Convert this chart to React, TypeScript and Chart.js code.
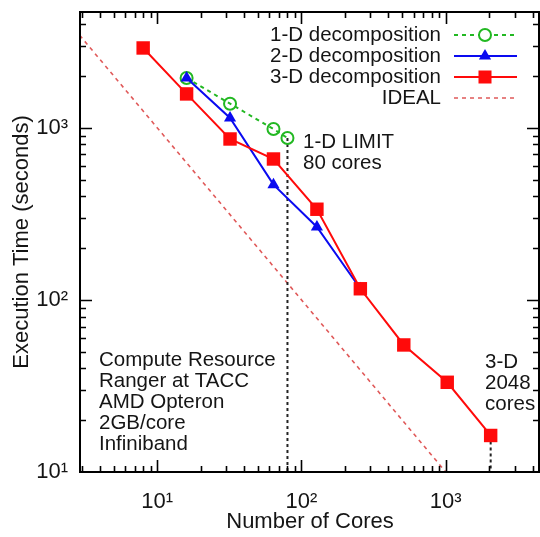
import React, { useEffect, useRef } from 'react';
import { Chart, registerables } from 'chart.js';

Chart.register(...registerables);

// ---- data ----
const coresOneD = [16, 32, 64, 80];
const timeOneD = [1945, 1379, 983, 871];
const coresTwoD = [16, 32, 64, 128, 256];
const timeTwoD = [1945, 1139, 467, 265, 116];
const coresThreeD = [8, 16, 32, 64, 128, 256, 512, 1024, 2048];
const timeThreeD = [2905, 1571, 860, 658, 336, 116, 54.7, 33.2, 16.3];
const coresIdeal = [1, 1000];
const timeIdeal = [10000, 10];
const limitOneDCores = [80, 80];
const limitOneDTime = [871, 10];
const limitThreeDCores = [2048, 2048];
const limitThreeDTime = [16.3, 10];

const legendLabels = ['1-D decomposition', '2-D decomposition', '3-D decomposition', 'IDEAL'];
const noteOneD = ['1-D LIMIT', '80 cores'];
const noteResource = ['Compute Resource', 'Ranger at TACC', 'AMD Opteron', '2GB/core', 'Infiniband'];
const noteThreeD = ['3-D', '2048', 'cores'];
const xTitle = 'Number of Cores';
const yTitle = 'Execution Time (seconds)';
const superscripts = ['⁰', '¹', '²', '³', '⁴', '⁵'];

const X_MIN = 2.92;
const X_MAX = 4500;
const Y_MIN = 10;
const Y_MAX = 4700;

const GREEN = '#22b822';
const BLUE = '#0a0af0';
const RED = '#ff0a0a';
const IDEAL_RED = '#e05a5a';
const FONT = '"Liberation Sans", Arial, Helvetica, sans-serif';
const TEXT = '#151515';

// target plot frame (canvas pixels)
const AREA = { left: 80, top: 12, bottom: 472 };

const pts = (xs: number[], ys: number[]) => xs.map((x, i) => ({ x, y: ys[i] }));

function powLabel(v: number) {
  const l = Math.log10(v);
  const r = Math.round(l);
  return Math.abs(l - r) < 1e-6 ? '10' + superscripts[r] : '';
}

const zeroPad = (s: any) => {
  s.paddingTop = 0;
  s.paddingBottom = 0;
  s.paddingLeft = 0;
  s.paddingRight = 0;
};

const decor = {
  id: 'decor',
  afterDraw(chart: any) {
    const { ctx, chartArea: a } = chart;
    const xs = chart.scales.x;
    const ys = chart.scales.y;
    ctx.save();
    // frame
    ctx.strokeStyle = '#000';
    ctx.lineWidth = 2;
    ctx.setLineDash([]);
    ctx.strokeRect(a.left, a.top, a.right - a.left - 1, a.bottom - a.top);
    // inward ticks
    ctx.lineWidth = 1.6;
    for (let p = 0; p <= 4; p++) {
      for (let m = 1; m <= 9; m++) {
        const v = m * Math.pow(10, p);
        const len = m === 1 ? 12 : 6;
        if (v > X_MIN && v < X_MAX) {
          const px = Math.round(xs.getPixelForValue(v)) + 0.5;
          ctx.beginPath();
          ctx.moveTo(px, a.bottom);
          ctx.lineTo(px, a.bottom - len);
          ctx.moveTo(px, a.top);
          ctx.lineTo(px, a.top + len);
          ctx.stroke();
        }
        if (v > Y_MIN && v < Y_MAX) {
          const py = Math.round(ys.getPixelForValue(v)) + 0.5;
          ctx.beginPath();
          ctx.moveTo(a.left, py);
          ctx.lineTo(a.left + len, py);
          ctx.moveTo(a.right - 1, py);
          ctx.lineTo(a.right - 1 - len, py);
          ctx.stroke();
        }
      }
    }
    // annotations
    ctx.fillStyle = TEXT;
    ctx.font = `20.5px ${FONT}`;
    ctx.textAlign = 'left';
    ctx.textBaseline = 'middle';
    noteOneD.forEach((t, i) => ctx.fillText(t, 303, 142 + i * 21));
    noteResource.forEach((t, i) => ctx.fillText(t, 99, 360 + i * 21));
    noteThreeD.forEach((t, i) => ctx.fillText(t, 485, 362 + i * 21));

    // legend
    const rows = [
      { color: GREEN, dash: [4, 4], width: 2, marker: 'circle' },
      { color: BLUE, dash: [], width: 2, marker: 'triangle' },
      { color: RED, dash: [], width: 2, marker: 'rect' },
      { color: IDEAL_RED, dash: [4, 4], width: 1.6, marker: 'none' },
    ];
    rows.forEach((r, i) => {
      const yy = 35 + i * 21;
      ctx.fillStyle = TEXT;
      ctx.textAlign = 'right';
      ctx.fillText(legendLabels[i], 441, yy);
      ctx.strokeStyle = r.color;
      ctx.lineWidth = r.width;
      ctx.setLineDash(r.dash);
      ctx.beginPath();
      ctx.moveTo(454, yy);
      ctx.lineTo(517, yy);
      ctx.stroke();
      ctx.setLineDash([]);
      const cx = 485;
      if (r.marker === 'circle') {
        ctx.fillStyle = '#fff';
        ctx.beginPath();
        ctx.arc(cx, yy, 6, 0, Math.PI * 2);
        ctx.fill();
        ctx.stroke();
      } else if (r.marker === 'triangle') {
        ctx.fillStyle = r.color;
        ctx.beginPath();
        ctx.moveTo(cx, yy - 7);
        ctx.lineTo(cx + 6.1, yy + 3.5);
        ctx.lineTo(cx - 6.1, yy + 3.5);
        ctx.closePath();
        ctx.fill();
      } else if (r.marker === 'rect') {
        ctx.fillStyle = r.color;
        ctx.fillRect(cx - 6.5, yy - 6.5, 13, 13);
      }
    });
    ctx.restore();
  },
};

export default function App() {
  const ref = useRef<HTMLCanvasElement>(null);
  useEffect(() => {
    const canvas = ref.current;
    if (!canvas) return;
    const chart: any = new Chart(canvas, {
      type: 'line',
      data: {
        datasets: [
          {
            label: legendLabels[3],
            data: pts(coresIdeal, timeIdeal),
            borderColor: IDEAL_RED,
            borderWidth: 1.6,
            borderDash: [4, 4],
            pointRadius: 0,
            order: 6,
          },
          {
            label: 'limit1',
            data: pts(limitOneDCores, limitOneDTime),
            borderColor: '#222',
            borderWidth: 2,
            borderDash: [3, 3],
            pointRadius: 0,
            order: 5,
          },
          {
            label: 'limit3',
            data: pts(limitThreeDCores, limitThreeDTime),
            borderColor: '#222',
            borderWidth: 2,
            borderDash: [3, 3],
            pointRadius: 0,
            order: 5,
          },
          {
            label: legendLabels[0],
            data: pts(coresOneD, timeOneD),
            borderColor: GREEN,
            borderWidth: 2,
            borderDash: [4, 4],
            pointStyle: 'circle',
            pointRadius: 6,
            pointBorderWidth: 2,
            pointBorderColor: GREEN,
            pointBackgroundColor: 'rgba(0,0,0,0)',
            order: 3,
          },
          {
            label: legendLabels[1],
            data: pts(coresTwoD, timeTwoD),
            borderColor: BLUE,
            borderWidth: 2,
            pointStyle: 'triangle',
            pointRadius: 7,
            pointBorderWidth: 0,
            pointBackgroundColor: BLUE,
            order: 2,
          },
          {
            label: legendLabels[2],
            data: pts(coresThreeD, timeThreeD),
            borderColor: RED,
            borderWidth: 2,
            pointStyle: 'rect',
            pointRadius: 9.5,
            pointBorderWidth: 0,
            pointBackgroundColor: RED,
            order: 1,
          },
        ],
      },
      options: {
        animation: false,
        responsive: false,
        events: [],
        layout: { autoPadding: false, padding: { top: AREA.top, right: 0, left: 0, bottom: 0 } },
        elements: { line: { tension: 0 } },
        plugins: { legend: { display: false }, tooltip: { enabled: false } },
        scales: {
          x: {
            type: 'logarithmic',
            min: X_MIN,
            max: X_MAX,
            grid: { display: false },
            border: { display: false },
            afterFit: (s: any) => {
              s.height = 537 - AREA.bottom;
              zeroPad(s);
            },
            ticks: {
              autoSkip: false,
              maxRotation: 0,
              padding: 9,
              color: TEXT,
              font: { family: FONT, size: 22 },
              callback: (v: any) => powLabel(Number(v)),
            },
            title: {
              display: true,
              text: xTitle,
              color: TEXT,
              font: { family: FONT, size: 22 },
              padding: { top: 0, bottom: 2 },
            },
          },
          y: {
            type: 'logarithmic',
            min: Y_MIN,
            max: Y_MAX,
            grid: { display: false },
            border: { display: false },
            afterFit: (s: any) => {
              s.width = AREA.left;
              zeroPad(s);
            },
            ticks: {
              autoSkip: false,
              padding: 4,
              color: TEXT,
              font: { family: FONT, size: 22 },
              callback: (v: any) => powLabel(Number(v)),
            },
            title: {
              display: true,
              text: yTitle,
              color: TEXT,
              font: { family: FONT, size: 22 },
              padding: { top: 9, bottom: 0 },
            },
          },
        },
      },
      plugins: [decor],
    } as any);
    return () => chart.destroy();
  }, []);
  return (
    <div style={{ position: 'absolute', left: 0, top: 0, width: 540, height: 537, background: '#fff' }}>
      <canvas ref={ref} width={540} height={537} style={{ display: 'block', width: 540, height: 537 }} />
    </div>
  );
}
